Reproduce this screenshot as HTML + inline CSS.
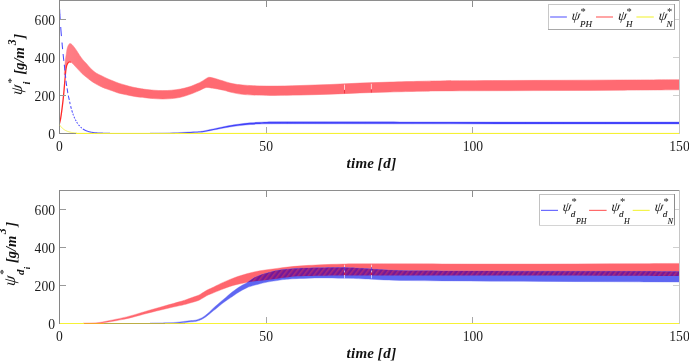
<!DOCTYPE html>
<html><head><meta charset="utf-8"><style>
html,body{margin:0;padding:0;background:#fff;width:689px;height:361px;overflow:hidden;}
svg{display:block;will-change:transform;}
</style></head><body>
<svg width="689" height="361" viewBox="0 0 689 361">
<defs>
<pattern id="hatch" patternUnits="userSpaceOnUse" width="4" height="4" patternTransform="rotate(38)">
<rect width="4" height="4" fill="#74189a"/><rect width="1.6" height="4" fill="#a82a7c"/>
</pattern>
<linearGradient id="rg" gradientUnits="userSpaceOnUse" x1="62" y1="0" x2="125" y2="0"><stop offset="0" stop-color="#ff8088"/><stop offset="0.5" stop-color="#ff747c"/><stop offset="1" stop-color="#ff6a72"/></linearGradient>
<clipPath id="cpT"><rect x="59.5" y="0.5" width="619.8" height="132.8"/></clipPath>
<clipPath id="cpB"><rect x="59.5" y="190.5" width="619.8" height="132.6"/></clipPath>
</defs>
<rect width="689" height="361" fill="#fff"/>
<g clip-path="url(#cpT)">
<path d="M64.20,74.50 C64.30,73.22 64.62,69.20 64.80,66.80 C64.98,64.40 65.07,62.13 65.30,60.10 C65.53,58.07 65.92,56.43 66.20,54.60 C66.48,52.77 66.65,50.65 67.00,49.10 C67.35,47.55 67.83,46.23 68.30,45.30 C68.77,44.37 69.30,43.72 69.80,43.50 C70.30,43.28 70.75,43.62 71.30,44.00 C71.85,44.38 72.25,44.77 73.10,45.80 C73.95,46.83 75.30,48.60 76.40,50.20 C77.50,51.80 78.60,53.78 79.70,55.40 C80.80,57.02 81.88,58.55 83.00,59.90 C84.12,61.25 85.15,62.10 86.40,63.50 C87.65,64.90 88.88,66.72 90.50,68.30 C92.12,69.88 94.25,71.75 96.10,73.00 C97.95,74.25 99.77,74.88 101.60,75.80 C103.43,76.72 105.25,77.67 107.10,78.50 C108.95,79.33 110.85,80.05 112.70,80.80 C114.55,81.55 116.35,82.35 118.20,83.00 C120.05,83.65 121.95,84.15 123.80,84.70 C125.65,85.25 127.47,85.82 129.30,86.30 C131.13,86.78 132.95,87.22 134.80,87.60 C136.65,87.98 138.70,88.32 140.40,88.60 C142.10,88.88 142.75,89.03 145.00,89.30 C147.25,89.57 150.95,89.98 153.90,90.20 C156.85,90.42 159.75,90.60 162.70,90.60 C165.65,90.60 168.63,90.47 171.60,90.20 C174.57,89.93 177.55,89.57 180.50,89.00 C183.45,88.43 186.35,87.77 189.30,86.80 C192.25,85.83 195.98,84.18 198.20,83.20 C200.42,82.22 201.38,81.60 202.60,80.90 C203.82,80.20 204.55,79.58 205.50,79.00 C206.45,78.42 207.30,77.63 208.30,77.40 C209.30,77.17 210.25,77.38 211.50,77.60 C212.75,77.82 213.72,78.10 215.80,78.70 C217.88,79.30 221.23,80.38 224.00,81.20 C226.77,82.02 228.90,82.93 232.40,83.60 C235.90,84.27 238.73,84.78 245.00,85.20 C251.27,85.62 260.83,86.05 270.00,86.10 C279.17,86.15 290.00,85.77 300.00,85.50 C310.00,85.23 320.00,84.90 330.00,84.50 C340.00,84.10 350.00,83.50 360.00,83.10 C370.00,82.70 380.00,82.40 390.00,82.10 C400.00,81.80 411.67,81.50 420.00,81.30 C428.33,81.10 426.67,81.03 440.00,80.90 C453.33,80.77 480.00,80.60 500.00,80.50 C520.00,80.40 540.00,80.38 560.00,80.30 C580.00,80.22 600.08,80.10 620.00,80.00 C639.92,79.90 669.58,79.75 679.50,79.70 L679.50,89.80 C669.58,89.87 639.92,90.08 620.00,90.20 C600.08,90.32 580.00,90.42 560.00,90.50 C540.00,90.58 520.00,90.63 500.00,90.70 C480.00,90.77 453.33,90.80 440.00,90.90 C426.67,91.00 428.33,91.12 420.00,91.30 C411.67,91.48 400.00,91.73 390.00,92.00 C380.00,92.27 370.00,92.53 360.00,92.90 C350.00,93.27 340.00,93.83 330.00,94.20 C320.00,94.57 310.00,94.90 300.00,95.10 C290.00,95.30 279.17,95.48 270.00,95.40 C260.83,95.32 251.27,95.07 245.00,94.60 C238.73,94.13 235.90,93.32 232.40,92.60 C228.90,91.88 226.77,90.95 224.00,90.30 C221.23,89.65 217.97,89.10 215.80,88.70 C213.63,88.30 212.30,88.10 211.00,87.90 C209.70,87.70 208.92,87.53 208.00,87.50 C207.08,87.47 206.40,87.47 205.50,87.70 C204.60,87.93 203.82,88.33 202.60,88.90 C201.38,89.47 200.42,90.15 198.20,91.10 C195.98,92.05 192.25,93.57 189.30,94.60 C186.35,95.63 183.45,96.63 180.50,97.30 C177.55,97.97 174.57,98.32 171.60,98.60 C168.63,98.88 165.65,99.00 162.70,99.00 C159.75,99.00 156.85,98.82 153.90,98.60 C150.95,98.38 147.25,97.93 145.00,97.70 C142.75,97.47 142.10,97.40 140.40,97.20 C138.70,97.00 136.65,96.80 134.80,96.50 C132.95,96.20 131.13,95.77 129.30,95.40 C127.47,95.03 125.65,94.70 123.80,94.30 C121.95,93.90 120.05,93.55 118.20,93.00 C116.35,92.45 114.55,91.65 112.70,91.00 C110.85,90.35 108.95,89.78 107.10,89.10 C105.25,88.42 103.43,87.73 101.60,86.90 C99.77,86.07 97.95,85.18 96.10,84.10 C94.25,83.02 92.12,81.55 90.50,80.40 C88.88,79.25 87.83,78.37 86.40,77.20 C84.97,76.03 83.38,74.80 81.90,73.40 C80.42,72.00 78.97,70.37 77.50,68.80 C76.03,67.23 74.15,65.07 73.10,64.00 C72.05,62.93 71.78,62.80 71.20,62.40 C70.62,62.00 70.17,61.53 69.60,61.60 C69.03,61.67 68.30,62.27 67.80,62.80 C67.30,63.33 66.97,63.85 66.60,64.80 C66.23,65.75 65.87,66.88 65.60,68.50 C65.33,70.12 65.10,73.50 65.00,74.50 Z" fill="url(#rg)" stroke="url(#rg)" stroke-width="0.5"/>
<path d="M59.50,123.60 C59.70,122.70 60.27,120.77 60.70,118.20 C61.13,115.63 61.65,111.72 62.10,108.20 C62.55,104.68 63.02,100.80 63.40,97.10 C63.78,93.40 64.12,89.18 64.40,86.00 C64.68,82.82 64.87,80.58 65.10,78.00 C65.33,75.42 65.55,72.53 65.80,70.50 C66.05,68.47 66.28,67.00 66.60,65.80 C66.92,64.60 67.27,63.93 67.70,63.30 C68.13,62.67 68.68,62.18 69.20,62.00 C69.72,61.82 70.53,62.17 70.80,62.20" fill="none" stroke="#ff2a2a" stroke-width="1.3"/>
<polyline points="59.60,9.00 59.61,9.21 59.62,9.46 59.63,9.74 59.65,10.05 59.66,10.40 59.68,10.77 59.70,11.16 59.72,11.56 59.74,11.98 59.76,12.41 59.78,12.85 59.80,13.29 59.83,13.73 59.85,14.16 59.88,14.59 59.90,15.00 59.93,15.41 59.95,15.81 59.98,16.22 60.01,16.63 60.04,17.05 60.07,17.46 60.10,17.89 60.13,18.31 60.16,18.75 60.20,19.18 60.23,19.63" fill="none" stroke="#4c4cff" stroke-width="1.05"/>
<polyline points="60.73,27.02 60.76,27.61 60.80,28.19 60.84,28.77 60.88,29.35 60.92,29.91 60.96,30.46 61.00,31.00 61.04,31.53 61.08,32.05 61.13,32.58 61.17,33.09 61.21,33.61 61.26,34.12 61.30,34.62 61.35,35.12 61.40,35.62 61.44,36.12" fill="none" stroke="#4c4cff" stroke-width="1.05"/>
<polyline points="62.00,42.56 62.04,42.99 62.07,43.42 62.11,43.85 62.15,44.27 62.18,44.70 62.22,45.13 62.26,45.56 62.30,46.00 62.34,46.44 62.38,46.89 62.43,47.34 62.47,47.80 62.52,48.25 62.56,48.71 62.61,49.17" fill="none" stroke="#4c4cff" stroke-width="1.05"/>
<polyline points="63.10,54.05 63.13,54.37 63.16,54.68 63.19,54.98 63.22,55.27 63.25,55.56 63.28,55.85 63.31,56.14 63.34,56.43 63.37,56.73 63.40,57.03 63.43,57.34 63.46,57.66 63.50,58.00 63.54,58.35 63.58,58.70 63.62,59.06 63.66,59.42 63.70,59.78 63.75,60.15 63.79,60.53 63.84,60.91" fill="none" stroke="#4c4cff" stroke-width="1.05"/>
<polyline points="64.29,64.79 64.33,65.19 64.38,65.59 64.42,65.99 64.46,66.40 64.51,66.81 64.55,67.22 64.59,67.63 64.64,68.04 64.68,68.45 64.73,68.86 64.77,69.27 64.81,69.68 64.86,70.09 64.90,70.50" fill="none" stroke="#4c4cff" stroke-width="1.05"/>
<polyline points="65.25,73.75 65.29,74.16 65.34,74.56 65.38,74.97 65.42,75.38 65.47,75.78 65.51,76.19 65.56,76.59 65.60,77.00 65.64,77.41 65.69,77.82" fill="none" stroke="#4c4cff" stroke-width="1.05"/>
<polyline points="65.98,80.73 66.02,81.14 66.07,81.54 66.11,81.95 66.16,82.34 66.20,82.74 66.25,83.12 66.30,83.50 66.35,83.87 66.40,84.24 66.46,84.59 66.51,84.95 66.57,85.29 66.62,85.64 66.68,85.98" fill="none" stroke="#4c4cff" stroke-width="1.05"/>
<polyline points="67.09,88.32 67.14,88.66 67.20,89.00 67.26,89.34 67.31,89.69 67.36,90.03 67.42,90.38 67.47,90.72 67.52,91.06 67.58,91.41 67.63,91.75 67.69,92.09 67.74,92.44 67.80,92.78 67.85,93.12" fill="none" stroke="#4c4cff" stroke-width="1.05"/>
<polyline points="68.31,95.53 68.38,95.88 68.45,96.22 68.53,96.56 68.60,96.91 68.68,97.25 68.76,97.59 68.84,97.94 68.91,98.28 68.99,98.62 69.07,98.97 69.15,99.31 69.22,99.66 69.30,100.00" fill="none" stroke="#4c4cff" stroke-width="1.05"/>
<polyline points="69.67,101.75 69.75,102.11 69.83,102.46 69.90,102.81 69.97,103.16 70.05,103.51 70.12,103.86 70.20,104.20" fill="none" stroke="#4c4cff" stroke-width="1.05"/>
<polyline points="70.65,106.11 70.72,106.41 70.80,106.71 70.87,107.00 70.95,107.28 71.02,107.56 71.09,107.84 71.17,108.12 71.24,108.39 71.32,108.66 71.39,108.93" fill="none" stroke="#4c4cff" stroke-width="1.05"/>
<polyline points="71.78,110.26 71.86,110.53 71.94,110.79 72.02,111.04 72.10,111.30 72.18,111.55 72.26,111.81 72.34,112.06 72.42,112.30 72.50,112.55" fill="none" stroke="#4c4cff" stroke-width="1.05"/>
<polyline points="72.92,113.76 73.00,114.00 73.08,114.24 73.17,114.47 73.25,114.71 73.34,114.94 73.43,115.17 73.51,115.41" fill="none" stroke="#4c4cff" stroke-width="1.05"/>
<polyline points="74.04,116.75 74.13,116.97 74.22,117.18 74.31,117.39 74.40,117.60 74.49,117.80 74.58,118.01 74.67,118.20 74.76,118.40" fill="none" stroke="#4c4cff" stroke-width="1.05"/>
<polyline points="75.32,119.52 75.41,119.70 75.51,119.88 75.60,120.06 75.70,120.24 75.80,120.42 75.90,120.60 76.00,120.78 76.10,120.96" fill="none" stroke="#4c4cff" stroke-width="1.05"/>
<polyline points="76.72,122.03 76.82,122.20 76.93,122.37 77.04,122.55 77.15,122.72 77.26,122.89 77.37,123.06 77.49,123.23 77.60,123.40 77.72,123.57" fill="none" stroke="#4c4cff" stroke-width="1.05"/>
<polyline points="78.57,124.74 78.70,124.91 78.82,125.07 78.95,125.23 79.08,125.39 79.21,125.55 79.34,125.70 79.47,125.85 79.60,126.00" fill="none" stroke="#4c4cff" stroke-width="1.05"/>
<polyline points="80.62,127.08 80.76,127.21 80.89,127.33 81.03,127.46 81.17,127.59 81.32,127.71 81.48,127.84 81.63,127.97 81.80,128.10" fill="none" stroke="#4c4cff" stroke-width="1.05"/>
<polyline points="82.86,128.91 83.04,129.04 83.24,129.17 83.44,129.31 83.64,129.44 83.85,129.57 84.06,129.70 84.29,129.83 84.52,129.96 84.75,130.08 85.00,130.20 85.26,130.32 85.52,130.44 85.80,130.56 86.08,130.67 86.37,130.79 86.67,130.91 86.97,131.02 87.27,131.13 87.59,131.24 87.90,131.35 88.22,131.45 88.53,131.55 88.85,131.64 89.17,131.73 89.49,131.82 89.80,131.90 90.11,131.98 90.42,132.05 90.73,132.11 91.04,132.17 91.35,132.23 91.66,132.28 91.98,132.33 92.29,132.38 92.61,132.43 92.94,132.47 93.27,132.51 93.60,132.55 93.94,132.59 94.29,132.63 94.64,132.66 95.00,132.70 95.37,132.74 95.74,132.77 96.11,132.80 96.49,132.83 96.87,132.86 97.25,132.89 97.65,132.91 98.04,132.94 98.45,132.96 98.86,132.98 99.28,133.00 99.70,133.02 100.14,133.04 100.58,133.06 101.04,133.08 101.50,133.10 101.99,133.12 102.52,133.14 103.09,133.15 103.68,133.17 104.29,133.18 104.91,133.20 105.54,133.21 106.16,133.22 106.76,133.24 107.35,133.25 107.90,133.26 108.43,133.27 108.90,133.28 109.33,133.29 109.70,133.29 110.00,133.30" fill="none" stroke="#4c4cff" stroke-width="1.05"/>
<path d="M150.00,133.07 C152.50,133.06 159.73,133.08 165.00,132.97 C170.27,132.87 176.90,132.62 181.60,132.43 C186.30,132.24 190.10,132.00 193.20,131.83 C196.30,131.67 198.27,131.62 200.20,131.43 C202.13,131.24 202.08,131.23 204.80,130.69 C207.52,130.15 212.62,129.01 216.50,128.19 C220.38,127.37 224.23,126.48 228.10,125.78 C231.97,125.08 236.05,124.48 239.70,123.99 C243.35,123.50 246.95,123.13 250.00,122.85 C253.05,122.57 255.17,122.46 258.00,122.31 C260.83,122.16 262.50,122.04 267.00,121.97 C271.50,121.89 279.50,121.88 285.00,121.86 C290.50,121.85 280.83,121.85 300.00,121.86 C319.17,121.88 366.67,121.93 400.00,121.97 C433.33,122.00 466.67,122.05 500.00,122.06 C533.33,122.08 570.08,122.06 600.00,122.06 C629.92,122.06 666.25,122.06 679.50,122.06 L679.50,123.94 C666.25,123.94 629.92,123.94 600.00,123.94 C570.08,123.94 533.33,123.95 500.00,123.94 C466.67,123.92 433.33,123.87 400.00,123.84 C366.67,123.80 319.17,123.75 300.00,123.73 C280.83,123.72 290.50,123.72 285.00,123.73 C279.50,123.75 271.50,123.78 267.00,123.84 C262.50,123.89 260.83,123.97 258.00,124.09 C255.17,124.21 253.05,124.30 250.00,124.55 C246.95,124.80 243.35,125.16 239.70,125.61 C236.05,126.05 231.97,126.59 228.10,127.22 C224.23,127.86 220.38,128.66 216.50,129.41 C212.62,130.16 207.52,131.22 204.80,131.71 C202.08,132.20 202.13,132.19 200.20,132.37 C198.27,132.54 196.30,132.60 193.20,132.77 C190.10,132.93 186.30,133.19 181.60,133.37 C176.90,133.54 170.27,133.73 165.00,133.83 C159.73,133.92 152.50,133.91 150.00,133.93 Z" fill="#4242fa" stroke="#4a4af8" stroke-width="0.35"/>
</g>
<g clip-path="url(#cpB)">
<path d="M83.00,323.20 C84.50,323.17 89.17,323.13 92.00,323.00 C94.83,322.87 97.00,322.83 100.00,322.40 C103.00,321.97 106.33,321.15 110.00,320.40 C113.67,319.65 118.33,318.73 122.00,317.90 C125.67,317.07 127.72,316.60 132.00,315.40 C136.28,314.20 142.20,312.30 147.70,310.70 C153.20,309.10 159.62,307.32 165.00,305.80 C170.38,304.28 176.50,302.62 180.00,301.60 C183.50,300.58 184.00,300.38 186.00,299.70 C188.00,299.02 190.17,298.15 192.00,297.50 C193.83,296.85 195.67,296.32 197.00,295.80 C198.33,295.28 198.67,295.15 200.00,294.40 C201.33,293.65 203.67,292.10 205.00,291.30 C206.33,290.50 206.83,290.18 208.00,289.60 C209.17,289.02 209.87,288.83 212.00,287.80 C214.13,286.77 217.80,284.80 220.80,283.40 C223.80,282.00 227.08,280.58 230.00,279.40 C232.92,278.22 235.53,277.23 238.30,276.30 C241.07,275.37 243.82,274.57 246.60,273.80 C249.38,273.03 251.93,272.33 255.00,271.70 C258.07,271.07 261.33,270.55 265.00,270.00 C268.67,269.45 272.83,268.93 277.00,268.40 C281.17,267.87 285.33,267.27 290.00,266.80 C294.67,266.33 300.00,265.93 305.00,265.60 C310.00,265.27 313.67,265.07 320.00,264.80 C326.33,264.53 335.50,264.17 343.00,264.00 C350.50,263.83 355.50,263.83 365.00,263.80 C374.50,263.77 382.50,263.77 400.00,263.80 C417.50,263.83 446.67,263.97 470.00,264.00 C493.33,264.03 516.67,264.05 540.00,264.00 C563.33,263.95 586.75,263.80 610.00,263.70 C633.25,263.60 667.92,263.45 679.50,263.40 L679.50,276.00 C667.92,275.97 633.25,275.87 610.00,275.80 C586.75,275.73 563.33,275.65 540.00,275.60 C516.67,275.55 493.33,275.53 470.00,275.50 C446.67,275.47 417.50,275.42 400.00,275.40 C382.50,275.38 374.50,275.40 365.00,275.40 C355.50,275.40 350.50,275.35 343.00,275.40 C335.50,275.45 326.33,275.58 320.00,275.70 C313.67,275.82 310.00,275.88 305.00,276.10 C300.00,276.32 294.67,276.55 290.00,277.00 C285.33,277.45 281.17,278.27 277.00,278.80 C272.83,279.33 268.67,279.78 265.00,280.20 C261.33,280.62 258.07,280.90 255.00,281.30 C251.93,281.70 249.38,282.12 246.60,282.60 C243.82,283.08 241.07,283.57 238.30,284.20 C235.53,284.83 232.78,285.50 230.00,286.40 C227.22,287.30 224.60,288.42 221.60,289.60 C218.60,290.78 214.27,292.58 212.00,293.50 C209.73,294.42 209.17,294.55 208.00,295.10 C206.83,295.65 206.33,296.03 205.00,296.80 C203.67,297.57 201.33,299.00 200.00,299.70 C198.67,300.40 198.33,300.53 197.00,301.00 C195.67,301.47 193.83,301.97 192.00,302.50 C190.17,303.03 188.00,303.68 186.00,304.20 C184.00,304.72 183.50,304.80 180.00,305.60 C176.50,306.40 170.38,307.73 165.00,309.00 C159.62,310.27 153.20,311.80 147.70,313.20 C142.20,314.60 136.28,316.33 132.00,317.40 C127.72,318.47 125.67,318.87 122.00,319.60 C118.33,320.33 113.67,321.22 110.00,321.80 C106.33,322.38 103.00,322.83 100.00,323.10 C97.00,323.37 94.83,323.35 92.00,323.40 C89.17,323.45 84.50,323.40 83.00,323.40 Z" fill="#ff666e" stroke="#ff7076" stroke-width="0.4"/>
<path d="M150.00,323.00 C153.33,322.95 165.00,322.88 170.00,322.70 C175.00,322.52 177.13,322.18 180.00,321.90 C182.87,321.62 184.80,321.27 187.20,321.00 C189.60,320.73 192.60,320.57 194.40,320.30 C196.20,320.03 196.80,319.80 198.00,319.40 C199.20,319.00 200.43,318.52 201.60,317.90 C202.77,317.28 203.73,316.65 205.00,315.70 C206.27,314.75 207.82,313.45 209.20,312.20 C210.58,310.95 211.92,309.48 213.30,308.20 C214.68,306.92 216.12,305.72 217.50,304.50 C218.88,303.28 220.22,302.07 221.60,300.90 C222.98,299.73 224.40,298.68 225.80,297.50 C227.20,296.32 228.60,294.95 230.00,293.80 C231.40,292.65 232.82,291.63 234.20,290.60 C235.58,289.57 236.92,288.53 238.30,287.60 C239.68,286.67 241.12,285.77 242.50,285.00 C243.88,284.23 245.35,283.73 246.60,283.00 C247.85,282.27 248.60,281.55 250.00,280.60 C251.40,279.65 253.33,278.18 255.00,277.30 C256.67,276.42 258.33,275.92 260.00,275.30 C261.67,274.68 263.33,274.12 265.00,273.60 C266.67,273.08 268.00,272.70 270.00,272.20 C272.00,271.70 274.83,271.03 277.00,270.60 C279.17,270.17 280.83,269.88 283.00,269.60 C285.17,269.32 287.17,269.13 290.00,268.90 C292.83,268.67 295.00,268.40 300.00,268.20 C305.00,268.00 312.83,267.82 320.00,267.70 C327.17,267.58 335.50,267.37 343.00,267.50 C350.50,267.63 355.50,268.00 365.00,268.50 C374.50,269.00 382.50,270.08 400.00,270.50 C417.50,270.92 446.67,270.88 470.00,271.00 C493.33,271.12 516.67,271.15 540.00,271.20 C563.33,271.25 586.75,271.25 610.00,271.30 C633.25,271.35 667.92,271.47 679.50,271.50 L679.50,282.00 C667.92,281.95 633.25,281.80 610.00,281.70 C586.75,281.60 563.33,281.52 540.00,281.40 C516.67,281.28 493.33,281.17 470.00,281.00 C446.67,280.83 417.50,280.75 400.00,280.40 C382.50,280.05 374.50,279.27 365.00,278.90 C355.50,278.53 350.50,278.37 343.00,278.20 C335.50,278.03 327.17,277.85 320.00,277.90 C312.83,277.95 305.00,278.32 300.00,278.50 C295.00,278.68 292.83,278.82 290.00,279.00 C287.17,279.18 285.17,279.33 283.00,279.60 C280.83,279.87 279.17,280.27 277.00,280.60 C274.83,280.93 272.00,281.27 270.00,281.60 C268.00,281.93 266.67,282.23 265.00,282.60 C263.33,282.97 261.67,283.38 260.00,283.80 C258.33,284.22 256.67,284.63 255.00,285.10 C253.33,285.57 251.40,286.13 250.00,286.60 C248.60,287.07 247.85,287.33 246.60,287.90 C245.35,288.47 243.88,289.25 242.50,290.00 C241.12,290.75 239.68,291.53 238.30,292.40 C236.92,293.27 235.58,294.25 234.20,295.20 C232.82,296.15 231.40,297.15 230.00,298.10 C228.60,299.05 227.20,299.90 225.80,300.90 C224.40,301.90 222.98,303.00 221.60,304.10 C220.22,305.20 218.88,306.38 217.50,307.50 C216.12,308.62 214.68,309.68 213.30,310.80 C211.92,311.92 210.58,313.10 209.20,314.20 C207.82,315.30 206.27,316.53 205.00,317.40 C203.73,318.27 202.77,318.83 201.60,319.40 C200.43,319.97 199.20,320.43 198.00,320.80 C196.80,321.17 196.20,321.37 194.40,321.60 C192.60,321.83 189.60,321.98 187.20,322.20 C184.80,322.42 182.87,322.70 180.00,322.90 C177.13,323.10 175.00,323.30 170.00,323.40 C165.00,323.50 153.33,323.48 150.00,323.50 Z" fill="#5e66f2" stroke="#6a72f2" stroke-width="0.4"/>
<clipPath id="ovl"><path d="M83.00,323.20 C84.50,323.17 89.17,323.13 92.00,323.00 C94.83,322.87 97.00,322.83 100.00,322.40 C103.00,321.97 106.33,321.15 110.00,320.40 C113.67,319.65 118.33,318.73 122.00,317.90 C125.67,317.07 127.72,316.60 132.00,315.40 C136.28,314.20 142.20,312.30 147.70,310.70 C153.20,309.10 159.62,307.32 165.00,305.80 C170.38,304.28 176.50,302.62 180.00,301.60 C183.50,300.58 184.00,300.38 186.00,299.70 C188.00,299.02 190.17,298.15 192.00,297.50 C193.83,296.85 195.67,296.32 197.00,295.80 C198.33,295.28 198.67,295.15 200.00,294.40 C201.33,293.65 203.67,292.10 205.00,291.30 C206.33,290.50 206.83,290.18 208.00,289.60 C209.17,289.02 209.87,288.83 212.00,287.80 C214.13,286.77 217.80,284.80 220.80,283.40 C223.80,282.00 227.08,280.58 230.00,279.40 C232.92,278.22 235.53,277.23 238.30,276.30 C241.07,275.37 243.82,274.57 246.60,273.80 C249.38,273.03 251.93,272.33 255.00,271.70 C258.07,271.07 261.33,270.55 265.00,270.00 C268.67,269.45 272.83,268.93 277.00,268.40 C281.17,267.87 285.33,267.27 290.00,266.80 C294.67,266.33 300.00,265.93 305.00,265.60 C310.00,265.27 313.67,265.07 320.00,264.80 C326.33,264.53 335.50,264.17 343.00,264.00 C350.50,263.83 355.50,263.83 365.00,263.80 C374.50,263.77 382.50,263.77 400.00,263.80 C417.50,263.83 446.67,263.97 470.00,264.00 C493.33,264.03 516.67,264.05 540.00,264.00 C563.33,263.95 586.75,263.80 610.00,263.70 C633.25,263.60 667.92,263.45 679.50,263.40 L679.50,276.00 C667.92,275.97 633.25,275.87 610.00,275.80 C586.75,275.73 563.33,275.65 540.00,275.60 C516.67,275.55 493.33,275.53 470.00,275.50 C446.67,275.47 417.50,275.42 400.00,275.40 C382.50,275.38 374.50,275.40 365.00,275.40 C355.50,275.40 350.50,275.35 343.00,275.40 C335.50,275.45 326.33,275.58 320.00,275.70 C313.67,275.82 310.00,275.88 305.00,276.10 C300.00,276.32 294.67,276.55 290.00,277.00 C285.33,277.45 281.17,278.27 277.00,278.80 C272.83,279.33 268.67,279.78 265.00,280.20 C261.33,280.62 258.07,280.90 255.00,281.30 C251.93,281.70 249.38,282.12 246.60,282.60 C243.82,283.08 241.07,283.57 238.30,284.20 C235.53,284.83 232.78,285.50 230.00,286.40 C227.22,287.30 224.60,288.42 221.60,289.60 C218.60,290.78 214.27,292.58 212.00,293.50 C209.73,294.42 209.17,294.55 208.00,295.10 C206.83,295.65 206.33,296.03 205.00,296.80 C203.67,297.57 201.33,299.00 200.00,299.70 C198.67,300.40 198.33,300.53 197.00,301.00 C195.67,301.47 193.83,301.97 192.00,302.50 C190.17,303.03 188.00,303.68 186.00,304.20 C184.00,304.72 183.50,304.80 180.00,305.60 C176.50,306.40 170.38,307.73 165.00,309.00 C159.62,310.27 153.20,311.80 147.70,313.20 C142.20,314.60 136.28,316.33 132.00,317.40 C127.72,318.47 125.67,318.87 122.00,319.60 C118.33,320.33 113.67,321.22 110.00,321.80 C106.33,322.38 103.00,322.83 100.00,323.10 C97.00,323.37 94.83,323.35 92.00,323.40 C89.17,323.45 84.50,323.40 83.00,323.40 Z"/></clipPath>
<path d="M150.00,323.00 C153.33,322.95 165.00,322.88 170.00,322.70 C175.00,322.52 177.13,322.18 180.00,321.90 C182.87,321.62 184.80,321.27 187.20,321.00 C189.60,320.73 192.60,320.57 194.40,320.30 C196.20,320.03 196.80,319.80 198.00,319.40 C199.20,319.00 200.43,318.52 201.60,317.90 C202.77,317.28 203.73,316.65 205.00,315.70 C206.27,314.75 207.82,313.45 209.20,312.20 C210.58,310.95 211.92,309.48 213.30,308.20 C214.68,306.92 216.12,305.72 217.50,304.50 C218.88,303.28 220.22,302.07 221.60,300.90 C222.98,299.73 224.40,298.68 225.80,297.50 C227.20,296.32 228.60,294.95 230.00,293.80 C231.40,292.65 232.82,291.63 234.20,290.60 C235.58,289.57 236.92,288.53 238.30,287.60 C239.68,286.67 241.12,285.77 242.50,285.00 C243.88,284.23 245.35,283.73 246.60,283.00 C247.85,282.27 248.60,281.55 250.00,280.60 C251.40,279.65 253.33,278.18 255.00,277.30 C256.67,276.42 258.33,275.92 260.00,275.30 C261.67,274.68 263.33,274.12 265.00,273.60 C266.67,273.08 268.00,272.70 270.00,272.20 C272.00,271.70 274.83,271.03 277.00,270.60 C279.17,270.17 280.83,269.88 283.00,269.60 C285.17,269.32 287.17,269.13 290.00,268.90 C292.83,268.67 295.00,268.40 300.00,268.20 C305.00,268.00 312.83,267.82 320.00,267.70 C327.17,267.58 335.50,267.37 343.00,267.50 C350.50,267.63 355.50,268.00 365.00,268.50 C374.50,269.00 382.50,270.08 400.00,270.50 C417.50,270.92 446.67,270.88 470.00,271.00 C493.33,271.12 516.67,271.15 540.00,271.20 C563.33,271.25 586.75,271.25 610.00,271.30 C633.25,271.35 667.92,271.47 679.50,271.50 L679.50,282.00 C667.92,281.95 633.25,281.80 610.00,281.70 C586.75,281.60 563.33,281.52 540.00,281.40 C516.67,281.28 493.33,281.17 470.00,281.00 C446.67,280.83 417.50,280.75 400.00,280.40 C382.50,280.05 374.50,279.27 365.00,278.90 C355.50,278.53 350.50,278.37 343.00,278.20 C335.50,278.03 327.17,277.85 320.00,277.90 C312.83,277.95 305.00,278.32 300.00,278.50 C295.00,278.68 292.83,278.82 290.00,279.00 C287.17,279.18 285.17,279.33 283.00,279.60 C280.83,279.87 279.17,280.27 277.00,280.60 C274.83,280.93 272.00,281.27 270.00,281.60 C268.00,281.93 266.67,282.23 265.00,282.60 C263.33,282.97 261.67,283.38 260.00,283.80 C258.33,284.22 256.67,284.63 255.00,285.10 C253.33,285.57 251.40,286.13 250.00,286.60 C248.60,287.07 247.85,287.33 246.60,287.90 C245.35,288.47 243.88,289.25 242.50,290.00 C241.12,290.75 239.68,291.53 238.30,292.40 C236.92,293.27 235.58,294.25 234.20,295.20 C232.82,296.15 231.40,297.15 230.00,298.10 C228.60,299.05 227.20,299.90 225.80,300.90 C224.40,301.90 222.98,303.00 221.60,304.10 C220.22,305.20 218.88,306.38 217.50,307.50 C216.12,308.62 214.68,309.68 213.30,310.80 C211.92,311.92 210.58,313.10 209.20,314.20 C207.82,315.30 206.27,316.53 205.00,317.40 C203.73,318.27 202.77,318.83 201.60,319.40 C200.43,319.97 199.20,320.43 198.00,320.80 C196.80,321.17 196.20,321.37 194.40,321.60 C192.60,321.83 189.60,321.98 187.20,322.20 C184.80,322.42 182.87,322.70 180.00,322.90 C177.13,323.10 175.00,323.30 170.00,323.40 C165.00,323.50 153.33,323.48 150.00,323.50 Z" fill="url(#hatch)" clip-path="url(#ovl)"/>
</g>
<rect x="344.0" y="84.6" width="0.8" height="5.300000000000011" fill="#fff" opacity="0.85"/>
<rect x="344.0" y="89.9" width="0.8" height="3.5" fill="#e81c2c" opacity="0.8"/>
<rect x="370.90000000000003" y="83.8" width="0.8" height="5.6000000000000085" fill="#fff" opacity="0.85"/>
<rect x="370.90000000000003" y="89.4" width="0.8" height="3.1999999999999886" fill="#e81c2c" opacity="0.8"/>
<rect x="344.0" y="264.7" width="0.8" height="2.5" fill="#ffffff" opacity="0.8"/>
<rect x="344.0" y="267.2" width="0.8" height="3.3" fill="#3a3aff" opacity="0.8"/>
<rect x="344.0" y="270.5" width="0.8" height="2.1" fill="#ffffff" opacity="0.8"/>
<rect x="344.0" y="272.6" width="0.8" height="2.4" fill="#f01c2c" opacity="0.8"/>
<rect x="344.0" y="275.0" width="0.8" height="3.4" fill="#ffffff" opacity="0.8"/>
<rect x="371.0" y="264.7" width="0.8" height="2.5" fill="#ffffff" opacity="0.8"/>
<rect x="371.0" y="267.2" width="0.8" height="3.3" fill="#3a3aff" opacity="0.8"/>
<rect x="371.0" y="270.5" width="0.8" height="2.1" fill="#ffffff" opacity="0.8"/>
<rect x="371.0" y="272.6" width="0.8" height="2.4" fill="#f01c2c" opacity="0.8"/>
<rect x="371.0" y="275.0" width="0.8" height="3.4" fill="#ffffff" opacity="0.8"/>
<rect x="266" y="127" width="1" height="6" fill="#a8a8a8"/>
<rect x="266" y="1" width="1" height="6" fill="#8e8e8e"/>
<rect x="472" y="127" width="1" height="6" fill="#a8a8a8"/>
<rect x="472" y="1" width="1" height="6" fill="#8e8e8e"/>
<rect x="60" y="95" width="6" height="1" fill="#999999"/>
<rect x="673" y="95" width="6" height="1" fill="#d0d0d0"/>
<rect x="673" y="57" width="6" height="1" fill="#d0d0d0"/>
<rect x="60" y="19" width="6" height="1" fill="#999999"/>
<rect x="673" y="19" width="6" height="1" fill="#d0d0d0"/>
<rect x="59" y="0" width="621" height="1" fill="#8e8e8e"/>
<rect x="59" y="133" width="621" height="1" fill="#8a8a8a"/>
<rect x="59" y="0" width="1" height="134" fill="#868686"/>
<rect x="679" y="0" width="1" height="134" fill="#c6c6c6"/>
<rect x="266" y="317" width="1" height="6" fill="#a8a8a8"/>
<rect x="266" y="191" width="1" height="6" fill="#8e8e8e"/>
<rect x="472" y="317" width="1" height="6" fill="#a8a8a8"/>
<rect x="472" y="191" width="1" height="6" fill="#8e8e8e"/>
<rect x="60" y="285" width="6" height="1" fill="#999999"/>
<rect x="673" y="285" width="6" height="1" fill="#d0d0d0"/>
<rect x="60" y="247" width="6" height="1" fill="#999999"/>
<rect x="673" y="247" width="6" height="1" fill="#d0d0d0"/>
<rect x="60" y="209" width="6" height="1" fill="#999999"/>
<rect x="673" y="209" width="6" height="1" fill="#d0d0d0"/>
<rect x="59" y="190" width="621" height="1" fill="#8e8e8e"/>
<rect x="59" y="323" width="621" height="1" fill="#8a8a8a"/>
<rect x="59" y="190" width="1" height="134" fill="#868686"/>
<rect x="679" y="190" width="1" height="134" fill="#c6c6c6"/>
<g clip-path="url(#cpT)"><polyline points="59.50,124.76 59.79,125.20 60.09,125.61 60.38,126.01 60.68,126.38 60.97,126.74 61.27,127.07 61.56,127.39 61.85,127.70 62.15,127.99 62.44,128.26 62.74,128.53 63.03,128.78 63.33,129.01 63.62,129.24 63.91,129.45 64.21,129.65 64.50,129.84 64.80,130.03 65.09,130.20 65.38,130.36 65.68,130.52 65.97,130.67 66.27,130.81 66.56,130.95 66.86,131.07 67.15,131.19 67.44,131.31 67.74,131.42 68.03,131.52 68.33,131.62 68.62,131.72 68.92,131.80 69.21,131.89 69.50,131.97 69.80,132.05 70.09,132.12 70.39,132.19 70.68,132.25 70.98,132.32 71.27,132.38 71.56,132.43 71.86,132.48 72.15,132.54 72.45,132.58 72.74,132.63 73.03,132.67 73.33,132.71 73.62,132.75 73.92,132.79 74.21,132.83 74.51,132.86 74.80,132.89 75.09,132.92 75.39,132.95 75.68,132.98 75.98,133.00 76.27,133.03 76.57,133.05 76.86,133.08" fill="none" stroke="#f2f04a" stroke-width="1.0"/></g>
<rect x="76" y="133" width="603" height="1" fill="#f5f134"/>
<rect x="95" y="133" width="80" height="1" fill="#e8e440"/>
<rect x="76" y="132.8" width="603" height="0.2" fill="#f5f134" opacity="0.5"/>
<rect x="60" y="323" width="619" height="1" fill="#f6f236"/>
<rect x="84" y="323" width="20" height="1" fill="#f4a428"/>
<rect x="104" y="323" width="61" height="1" fill="#bcae44"/>
<rect x="165" y="323" width="20" height="1" fill="#dcd43c"/>
<g font-family='"Liberation Serif", serif' font-size="13.6" fill="#1c1c1c">
<text x="59.50" y="150.60" text-anchor="middle">0</text>
<text x="266.17" y="150.60" text-anchor="middle">50</text>
<text x="472.83" y="150.60" text-anchor="middle">100</text>
<text x="679.50" y="150.60" text-anchor="middle">150</text>
<text x="55.0" y="138.70" text-anchor="end">0</text>
<text x="55.0" y="100.70" text-anchor="end">200</text>
<text x="55.0" y="62.70" text-anchor="end">400</text>
<text x="55.0" y="24.70" text-anchor="end">600</text>
<text x="59.50" y="340.60" text-anchor="middle">0</text>
<text x="266.17" y="340.60" text-anchor="middle">50</text>
<text x="472.83" y="340.60" text-anchor="middle">100</text>
<text x="679.50" y="340.60" text-anchor="middle">150</text>
<text x="55.0" y="328.70" text-anchor="end">0</text>
<text x="55.0" y="290.70" text-anchor="end">200</text>
<text x="55.0" y="252.70" text-anchor="end">400</text>
<text x="55.0" y="214.70" text-anchor="end">600</text>
</g>
<g font-family='"Liberation Serif", serif' font-size="15" font-weight="bold" font-style="italic" fill="#111">
<text x="346.6" y="167.6" textLength="27.4" lengthAdjust="spacing">time</text>
<text x="377.6" y="167.6" textLength="18.6" lengthAdjust="spacing">[d]</text>
<text x="346.6" y="357.6" textLength="27.4" lengthAdjust="spacing">time</text>
<text x="377.6" y="357.6" textLength="18.6" lengthAdjust="spacing">[d]</text>
</g>
<text transform="translate(22.2,96.0) rotate(-90) skewX(-16)" font-family='"Liberation Serif", serif' font-size="16.2" font-style="normal" font-weight="normal" fill="#151515">ψ</text>
<text transform="translate(14.6,83.4) rotate(-90)" font-family='"Liberation Serif", serif' font-size="11" font-style="normal" font-weight="normal" fill="#111">*</text>
<text transform="translate(30.4,84.5) rotate(-90)" font-family='"Liberation Serif", serif' font-size="10.5" font-style="italic" font-weight="bold" fill="#111">i</text>
<text transform="translate(24.3,74.5) rotate(-90)" font-family='"Liberation Serif", serif' font-size="14.5" font-style="italic" font-weight="bold" fill="#111">[g/m</text>
<text transform="translate(15.5,45.3) rotate(-90)" font-family='"Liberation Serif", serif' font-size="11.8" font-style="italic" font-weight="bold" fill="#111">3</text>
<text transform="translate(24.3,38.85) rotate(-90)" font-family='"Liberation Serif", serif' font-size="14.5" font-style="italic" font-weight="bold" fill="#111">]</text>
<text transform="translate(15.1,287.0) rotate(-90) skewX(-16)" font-family='"Liberation Serif", serif' font-size="16.2" font-style="normal" font-weight="normal" fill="#151515">ψ</text>
<text transform="translate(7.4,274.8) rotate(-90)" font-family='"Liberation Serif", serif' font-size="11" font-style="normal" font-weight="normal" fill="#111">*</text>
<text transform="translate(23.5,275.1) rotate(-90)" font-family='"Liberation Serif", serif' font-size="11" font-style="italic" font-weight="bold" fill="#111">d</text>
<text transform="translate(30.0,269.3) rotate(-90)" font-family='"Liberation Serif", serif' font-size="8.5" font-style="italic" font-weight="bold" fill="#111">i</text>
<text transform="translate(16.0,263.0) rotate(-90)" font-family='"Liberation Serif", serif' font-size="14.5" font-style="italic" font-weight="bold" fill="#111">[g/m</text>
<text transform="translate(6.1,234.3) rotate(-90)" font-family='"Liberation Serif", serif' font-size="11.8" font-style="italic" font-weight="bold" fill="#111">3</text>
<text transform="translate(16.0,226.85) rotate(-90)" font-family='"Liberation Serif", serif' font-size="14.5" font-style="italic" font-weight="bold" fill="#111">]</text>
<rect x="548" y="4" width="127" height="26" fill="#fff"/>
<rect x="548" y="4" width="127" height="1" fill="#c8c8c8"/>
<rect x="548" y="4" width="1" height="26" fill="#c8c8c8"/>
<rect x="674" y="4" width="1" height="26" fill="#9a9a9a"/>
<rect x="548" y="29" width="127" height="1" fill="#a8a8a8"/>
<line x1="550.1" y1="17.0" x2="566.9" y2="17.0" stroke="#6c6cff" stroke-width="1.2"/>
<line x1="596.0" y1="17.0" x2="613.0" y2="17.0" stroke="#ff6a6a" stroke-width="1.2"/>
<line x1="636.4" y1="17.0" x2="653.8" y2="17.0" stroke="#f4f44c" stroke-width="1.2"/>
<text transform="translate(570.75,20.4) skewX(-16)" font-family='"Liberation Serif", serif' font-size="13.4" font-style="normal" font-weight="normal" fill="#1a1a1a">ψ</text>
<text x="580.6" y="15.0" font-family='"Liberation Serif", serif' font-size="10.5" font-style="normal" font-weight="normal" fill="#222">*</text>
<text x="580.0" y="26.7" font-family='"Liberation Serif", serif' font-size="9.0" font-style="italic" font-weight="normal" fill="#111" stroke="#111" stroke-width="0.08">PH</text>
<text transform="translate(617.15,20.4) skewX(-16)" font-family='"Liberation Serif", serif' font-size="13.4" font-style="normal" font-weight="normal" fill="#1a1a1a">ψ</text>
<text x="626.6" y="15.0" font-family='"Liberation Serif", serif' font-size="10.5" font-style="normal" font-weight="normal" fill="#222">*</text>
<text x="626.1" y="26.7" font-family='"Liberation Serif", serif' font-size="9.0" font-style="italic" font-weight="normal" fill="#111" stroke="#111" stroke-width="0.08">H</text>
<text transform="translate(657.65,20.4) skewX(-16)" font-family='"Liberation Serif", serif' font-size="13.4" font-style="normal" font-weight="normal" fill="#1a1a1a">ψ</text>
<text x="667.1" y="15.0" font-family='"Liberation Serif", serif' font-size="10.5" font-style="normal" font-weight="normal" fill="#222">*</text>
<text x="666.5500000000001" y="26.7" font-family='"Liberation Serif", serif' font-size="9.0" font-style="italic" font-weight="normal" fill="#111" stroke="#111" stroke-width="0.08">N</text>
<rect x="539" y="194" width="136" height="32" fill="#fff"/>
<rect x="539" y="194" width="136" height="1" fill="#c2c2c2"/>
<rect x="539" y="194" width="1" height="32" fill="#c2c2c2"/>
<rect x="674" y="194" width="1" height="32" fill="#8c8c8c"/>
<rect x="539" y="225" width="136" height="1" fill="#d4d4d4"/>
<line x1="541.0" y1="210.4" x2="558.0" y2="210.4" stroke="#6c6cff" stroke-width="1.2"/>
<line x1="589.1" y1="210.4" x2="606.6" y2="210.4" stroke="#ff6a6a" stroke-width="1.2"/>
<line x1="632.7" y1="210.4" x2="649.7" y2="210.4" stroke="#f4f44c" stroke-width="1.2"/>
<text transform="translate(561.65,211.1) skewX(-16)" font-family='"Liberation Serif", serif' font-size="13.4" font-style="normal" font-weight="normal" fill="#1a1a1a">ψ</text>
<text x="571.5" y="205.3" font-family='"Liberation Serif", serif' font-size="10.5" font-style="normal" font-weight="normal" fill="#222">*</text>
<text x="570.65" y="217.0" font-family='"Liberation Serif", serif' font-size="9.2" font-style="italic" font-weight="normal" fill="#111" stroke="#111" stroke-width="0.1">d</text>
<text x="576.0" y="223.9" font-family='"Liberation Serif", serif' font-size="7.9" font-style="italic" font-weight="normal" fill="#111" stroke="#111" stroke-width="0.1">PH</text>
<text transform="translate(610.4499999999999,211.1) skewX(-16)" font-family='"Liberation Serif", serif' font-size="13.4" font-style="normal" font-weight="normal" fill="#1a1a1a">ψ</text>
<text x="620.1" y="205.3" font-family='"Liberation Serif", serif' font-size="10.5" font-style="normal" font-weight="normal" fill="#222">*</text>
<text x="619.05" y="217.0" font-family='"Liberation Serif", serif' font-size="9.2" font-style="italic" font-weight="normal" fill="#111" stroke="#111" stroke-width="0.1">d</text>
<text x="623.9000000000001" y="223.9" font-family='"Liberation Serif", serif' font-size="7.9" font-style="italic" font-weight="normal" fill="#111" stroke="#111" stroke-width="0.1">H</text>
<text transform="translate(653.8499999999999,211.1) skewX(-16)" font-family='"Liberation Serif", serif' font-size="13.4" font-style="normal" font-weight="normal" fill="#1a1a1a">ψ</text>
<text x="663.4" y="205.3" font-family='"Liberation Serif", serif' font-size="10.5" font-style="normal" font-weight="normal" fill="#222">*</text>
<text x="662.8499999999999" y="217.0" font-family='"Liberation Serif", serif' font-size="9.2" font-style="italic" font-weight="normal" fill="#111" stroke="#111" stroke-width="0.1">d</text>
<text x="667.75" y="223.9" font-family='"Liberation Serif", serif' font-size="7.9" font-style="italic" font-weight="normal" fill="#111" stroke="#111" stroke-width="0.1">N</text>
</svg>
</body></html>
